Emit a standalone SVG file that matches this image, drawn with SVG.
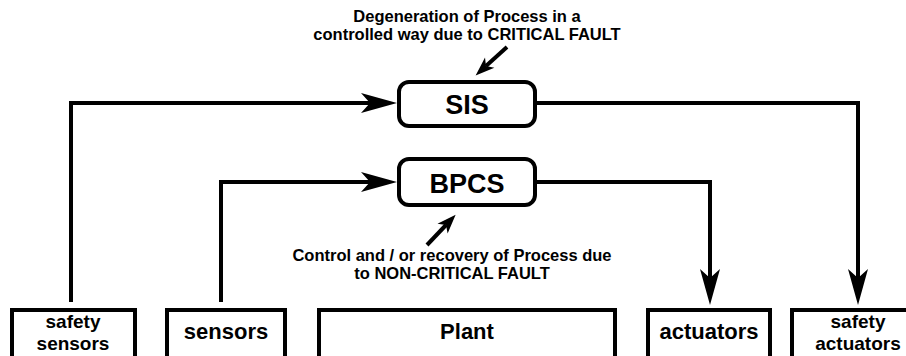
<svg xmlns="http://www.w3.org/2000/svg" width="906" height="356" viewBox="0 0 906 356">
<defs>
<style>
.box{fill:#fff;stroke:#000;stroke-width:4}
.ln{fill:none;stroke:#000;stroke-width:4}
.t{font-family:"Liberation Sans",Arial,sans-serif;font-weight:bold;text-anchor:middle;fill:#000}
.big{font-size:27px}
.lab{font-size:22px}
.lab2{font-size:19px}
.ann{font-size:16.5px}
</style>
<marker id="ah" markerUnits="userSpaceOnUse" viewBox="-10 -11 38 22" markerWidth="38" markerHeight="22" refX="0" refY="0" orient="auto">
<path d="M27,0 L-9,-10 L0,0 L-9,10 Z" fill="#000"/>
</marker>
<marker id="sh" markerUnits="userSpaceOnUse" viewBox="-6 -8 22 16" markerWidth="22" markerHeight="16" refX="0" refY="0" orient="auto">
<path d="M14,0 L-5,-7 L0,0 L-5,7 Z" fill="#000"/>
</marker>
</defs>
<rect width="906" height="356" fill="#fff"/>
<g id="connectors">
<path class="ln" d="M71,302 V103 H370" marker-end="url(#ah)"/>
<path class="ln" d="M537,103 H858 V278" marker-end="url(#ah)"/>
<path class="ln" d="M221,302 V182 H370" marker-end="url(#ah)"/>
<path class="ln" d="M537,182 H710 V278" marker-end="url(#ah)"/>
<path class="ln" d="M507,47 L486,66" marker-end="url(#sh)"/>
<path class="ln" d="M427,245 L446,225" marker-end="url(#sh)"/>
</g>
<g id="sis">
<rect class="box" x="399" y="82" width="136" height="44" rx="10"/>
<text class="t big" x="467" y="114">SIS</text>
</g>
<g id="bpcs">
<rect class="box" x="399" y="159" width="136" height="46" rx="10"/>
<text class="t big" x="467" y="193">BPCS</text>
</g>
<g id="note-sis">
<text class="t ann" x="467" y="22">Degeneration of Process in a</text>
<text class="t ann" x="467" y="40">controlled way due to CRITICAL FAULT</text>
</g>
<g id="note-bpcs">
<text class="t ann" x="452" y="261">Control and / or recovery of Process due</text>
<text class="t ann" x="452" y="279">to NON-CRITICAL FAULT</text>
</g>
<g id="safety-sensors">
<rect class="box" x="12" y="310" width="123" height="60"/>
<text class="t lab2" x="73" y="328">safety</text>
<text class="t lab2" x="73" y="350">sensors</text>
</g>
<g id="sensors">
<rect class="box" x="167" y="310" width="118" height="60"/>
<text class="t lab" x="226" y="339">sensors</text>
</g>
<g id="plant">
<rect class="box" x="319" y="310" width="296" height="60"/>
<text class="t lab" x="467" y="339">Plant</text>
</g>
<g id="actuators">
<rect class="box" x="648" y="310" width="122" height="60"/>
<text class="t lab" x="709" y="339">actuators</text>
</g>
<g id="safety-actuators">
<rect class="box" x="792" y="310" width="128" height="60"/>
<text class="t lab2" x="858" y="328">safety</text>
<text class="t lab2" x="858" y="350">actuators</text>
</g>
</svg>
